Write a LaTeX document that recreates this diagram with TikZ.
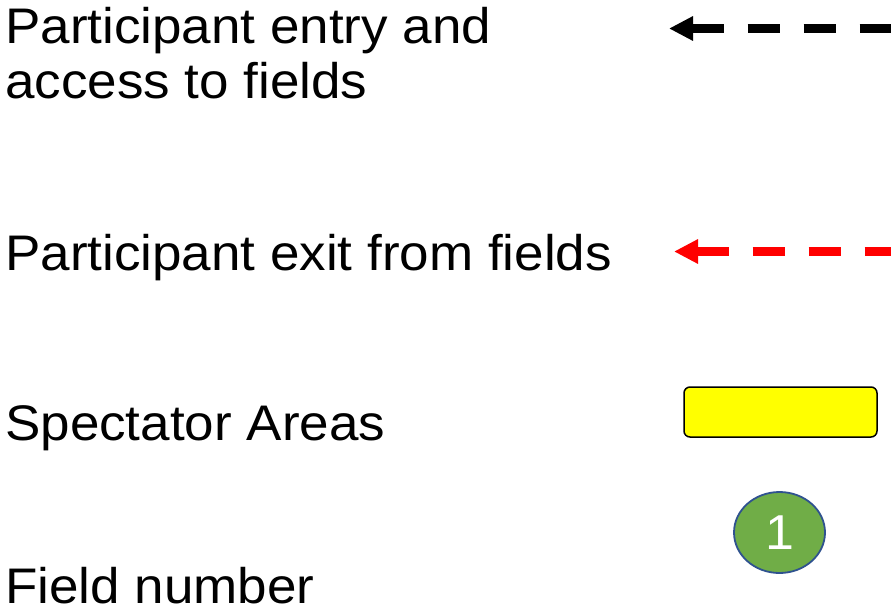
\documentclass[tikz,border=0pt]{standalone}
\usepackage{fontspec}
\setmainfont{Liberation Sans}[FakeStretch=1.06]
\usetikzlibrary{arrows.meta,shapes.geometric}
\definecolor{fieldgreen}{HTML}{70AD47}
\definecolor{fieldblue}{HTML}{2F528F}
\definecolor{spectyellow}{HTML}{FFFF00}
\tikzset{
  lbl/.style={anchor=base west, inner sep=0pt, font=\fontsize{50}{55}\selectfont},
  flowline/.style={line width=9pt, dash pattern=on 32pt off 24pt, {Triangle[length=24pt,width=23pt]}-},
  spect/.style={draw=black, line width=1.5pt, fill=spectyellow, rounded corners=6pt},
  fieldnum/.style={ellipse, draw=fieldblue, line width=1.8pt, fill=fieldgreen, text=white, minimum width=91pt, minimum height=81pt, inner sep=0pt, font=\fontsize{49}{50}\selectfont}
}
\begin{document}
\begin{tikzpicture}[x=1pt,y=-1pt]
\useasboundingbox (0,0) rectangle (891,611);
\node[lbl] (t1a) at (5,43) {Participant entry and};
\node[lbl] (t1b) at (5,98) {access to fields};
\node[lbl] (t2) at (5,270) {Participant exit from fields};
\node[lbl] (t3) at (5,440) {Spectator Areas};
\node[lbl] (t4) at (5,603) {Field number};
\coordinate (a1) at (669,28.5);
\coordinate (a1e) at (920,28.5);
\draw[flowline, black] (a1) -- (a1e);
\coordinate (a2) at (674,251.5);
\coordinate (a2e) at (920,251.5);
\draw[flowline, red] (a2) -- (a2e);
\draw[spect] (684,387) rectangle (877,437);
\node[fieldnum] (f1) at (779.5,532.5) {1};
\end{tikzpicture}
\end{document}
